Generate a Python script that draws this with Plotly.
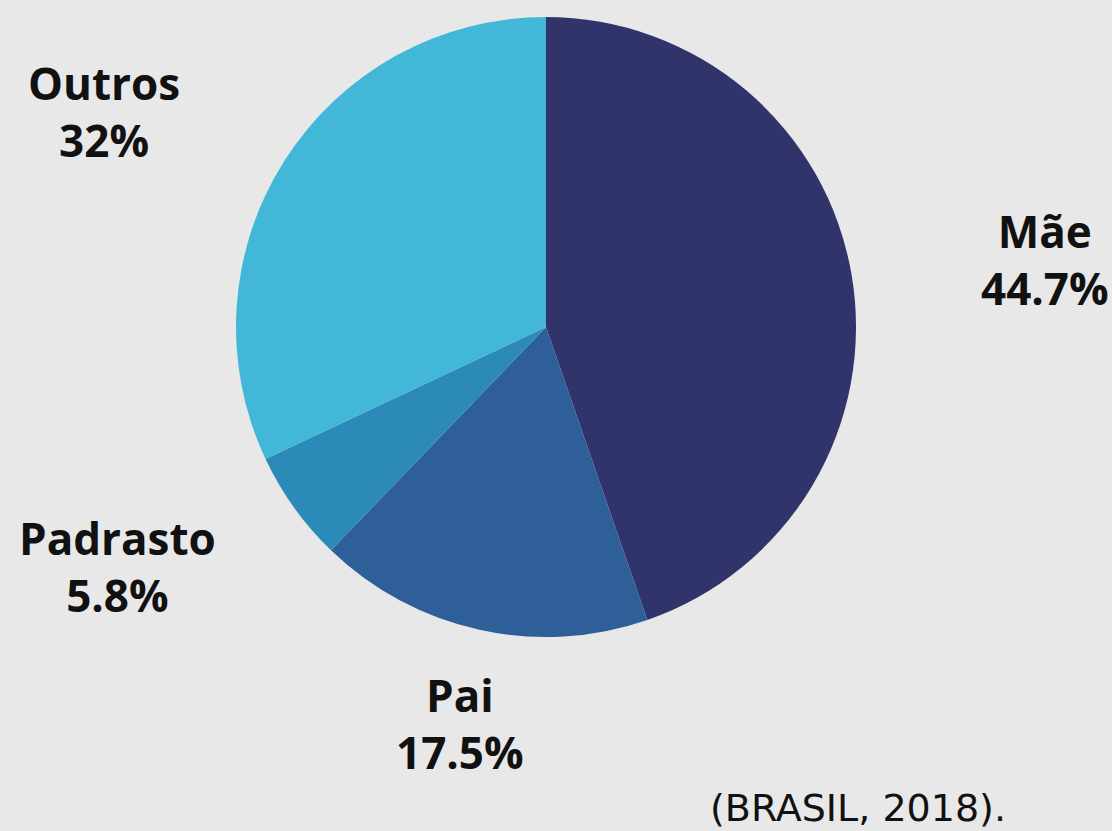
import plotly.graph_objects as go

labels = ["Mãe", "Pai", "Padrasto", "Outros"]
values = [44.7, 17.5, 5.8, 32]
colors = ["#30346b", "#2e5f99", "#2b8ab8", "#42b7d7"]
source = "(BRASIL, 2018)."

W, H = 1112, 831
# label anchor positions (pixel centers)
label_pos = {"Mãe": (1045, 259), "Pai": (460, 723), "Padrasto": (117, 566), "Outros": (104, 111)}

fig = go.Figure(go.Pie(
    labels=labels, values=values, sort=False, direction="clockwise", rotation=0,
    marker=dict(colors=colors, line=dict(width=0)),
    textinfo="none", hoverinfo="label+percent", showlegend=False,
    domain=dict(x=[(546 - 310) / W, (546 + 310) / W], y=[(H - 327 - 310) / H, (H - 327 + 310) / H]),
))

for lab, val in zip(labels, values):
    px, py = label_pos[lab]
    fig.add_annotation(
        x=px / W, y=1 - py / H, xref="paper", yref="paper", showarrow=False,
        text=f"<b>{lab}<br>{val:g}%</b>", align="center",
        font=dict(family="Open Sans", size=44, color="#111111"),
        xanchor="center", yanchor="middle",
    )

fig.add_annotation(
    x=708 / W, y=1 - 808 / H, xref="paper", yref="paper", showarrow=False,
    text=source, xanchor="left", yanchor="middle",
    font=dict(family="DejaVu Sans", size=38, color="#111111"),
)

fig.update_layout(
    width=W, height=H, margin=dict(l=0, r=0, t=0, b=0),
    paper_bgcolor="#e8e8e8", plot_bgcolor="#e8e8e8",
)

fig.write_html(
    "out.html",
    config={"displayModeBar": False},
    post_script="document.body.style.margin='0';document.body.style.overflow='hidden';",
)
